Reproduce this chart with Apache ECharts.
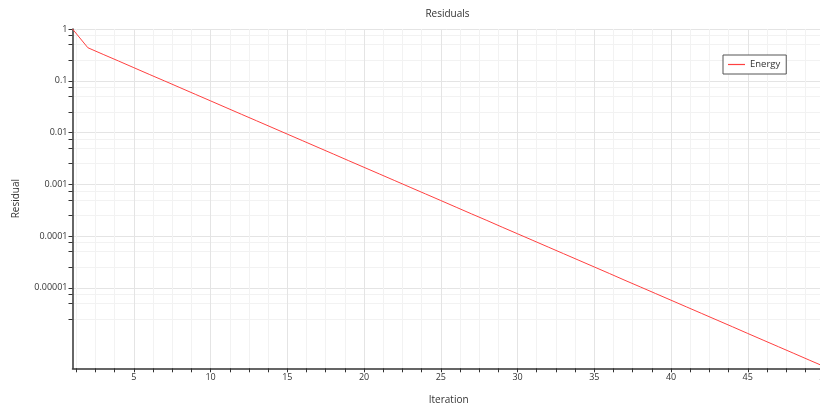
<!DOCTYPE html>
<html><head><meta charset="utf-8">
<script src="https://cdn.jsdelivr.net/npm/echarts@6/dist/echarts.min.js"></script>
<style>html,body{margin:0;padding:0;background:#fff}#c{width:820px;height:404px}</style>
</head><body><div id="c"></div>
<script>
const iterations = [1,2,3,4,5,6,7,8,9,10,11,12,13,14,15,16,17,18,19,20,21,22,23,24,25,26,27,28,29,30,31,32,33,34,35,36,37,38,39,40,41,42,43,44,45,46,47,48,49,50];
const energyResidual = [1, 0.435, 0.323, 0.241, 0.179, 0.133, 0.0992, 0.0738, 0.0549, 0.0409,
  0.0304, 0.0226, 0.01685, 0.01254, 0.00933, 0.00695, 0.00517, 0.00385, 0.00286, 0.00213,
  0.001586, 0.00118, 0.000878, 0.000654, 0.000487, 0.000362, 0.000269, 0.000201, 0.000149, 0.000111,
  8.27e-5, 6.15e-5, 4.58e-5, 3.41e-5, 2.54e-5, 1.89e-5, 1.40e-5, 1.045e-5, 7.78e-6, 5.79e-6,
  4.31e-6, 3.21e-6, 2.39e-6, 1.78e-6, 1.32e-6, 9.83e-7, 7.32e-7, 5.45e-7, 4.05e-7, 3.02e-7];
const yMajorTicks = [1, 0.1, 0.01, 0.001, 0.0001, 0.00001];
const yTickLabels = ['1', '0.1', '0.01', '0.001', '0.0001', '0.00001'];
const yMinorFactors = [0.75, 0.5, 0.25];
const yRange = [2.805e-7, 1];
const xMajorTicks = [5, 10, 15, 20, 25, 30, 35, 40, 45, 50];
const xTickLabels = ['5', '10', '15', '20', '25', '30', '35', '40', '45', '50'];
const xMinorSubdivisions = 4;
const xRange = [1, 50.02];

const FONT = 'Open Sans';
const lg = v => Math.log10(v);
const yMajorVals = yMajorTicks.map(lg);
const yMinorVals = [];
yMajorTicks.forEach(m => yMinorFactors.forEach(f => yMinorVals.push(lg(m * f))));
const xMinorVals = [];
for (let i = 0; i < xMajorTicks.length; i++) {
  const a = i === 0 ? 0 : xMajorTicks[i - 1], b = xMajorTicks[i];
  for (let k = 1; k < xMinorSubdivisions; k++) xMinorVals.push(a + (b - a) * k / xMinorSubdivisions);
}
const yMin = lg(yRange[0]), yMax = lg(yRange[1]);

const chart = echarts.init(document.getElementById('c'), null, {renderer: 'canvas'});
chart.setOption({
  animation: false,
  backgroundColor: '#fff',
  title: {
    text: 'Residuals', left: 447.5, top: 9, textAlign: 'center', padding: 0,
    textStyle: {fontSize: 10, fontWeight: 'normal', color: '#333', fontFamily: FONT}
  },
  legend: {
    data: ['Energy'], left: 723, top: 55, padding: [4, 6, 4, 5],
    icon: 'rect', itemWidth: 17, itemHeight: 1.2, itemTextGap: 4,
    borderColor: '#555', borderWidth: 1, borderRadius: 0, backgroundColor: '#fff',
    textStyle: {fontSize: 9.5, color: '#333', fontFamily: FONT, lineHeight: 11}
  },
  grid: {left: 72.5, right: -4.8, top: 29, bottom: 35.7, containLabel: false, outerBoundsMode: 'none'},
  xAxis: [{
    type: 'value', min: xRange[0], max: xRange[1], position: 'bottom',
    name: 'Iteration', nameLocation: 'middle', nameGap: 27,
    nameTextStyle: {fontSize: 10, color: '#333', fontFamily: FONT},
    axisLine: {show: true, onZero: false, lineStyle: {color: '#333', width: 1.5}},
    axisTick: {show: true, length: 4, customValues: xMajorTicks.concat(xMinorVals), lineStyle: {color: '#333'}},
    axisLabel: {customValues: xMajorTicks, margin: 5, fontSize: 9, color: '#333', fontFamily: FONT,
      showMaxLabel: true, showMinLabel: true, hideOverlap: false,
      formatter: v => { const i = xMajorTicks.indexOf(v); return i >= 0 ? xTickLabels[i] : ''; }},
    splitLine: {show: true, lineStyle: {color: '#e4e4e4', width: 1}}
  }, {
    type: 'value', min: xRange[0], max: xRange[1], gridIndex: 0,
    axisLine: {show: false}, axisLabel: {show: false},
    axisTick: {show: false, customValues: xMinorVals},
    splitLine: {show: true, lineStyle: {color: '#f2f2f2', width: 1}}
  }],
  yAxis: [{
    type: 'value', min: yMin, max: yMax, position: 'left',
    name: 'Residual', nameLocation: 'middle', nameRotate: 90, nameGap: 51,
    nameTextStyle: {fontSize: 10, color: '#333', fontFamily: FONT},
    axisLine: {show: true, onZero: false, lineStyle: {color: '#333', width: 1.5}},
    axisTick: {show: true, length: 4, customValues: yMajorVals.concat(yMinorVals), lineStyle: {color: '#333'}},
    axisLabel: {customValues: yMajorVals, margin: 5, fontSize: 9, color: '#333', fontFamily: FONT,
      formatter: v => { const i = yMajorVals.findIndex(t => Math.abs(t - v) < 1e-6); return i >= 0 ? yTickLabels[i] : ''; }},
    splitLine: {show: true, lineStyle: {color: '#e4e4e4', width: 1}}
  }, {
    type: 'value', min: yMin, max: yMax, gridIndex: 0,
    axisLine: {show: false}, axisLabel: {show: false},
    axisTick: {show: false, customValues: yMinorVals},
    splitLine: {show: true, lineStyle: {color: '#f2f2f2', width: 1}}
  }],
  series: [{
    name: 'Energy', type: 'line', xAxisIndex: 0, yAxisIndex: 0,
    data: iterations.map((it, i) => [it, lg(energyResidual[i])]),
    symbol: 'none', lineStyle: {color: '#ff4040', width: 1}, itemStyle: {color: '#ff4040'},
    clip: true, z: 5
  }]
});
</script></body></html>
